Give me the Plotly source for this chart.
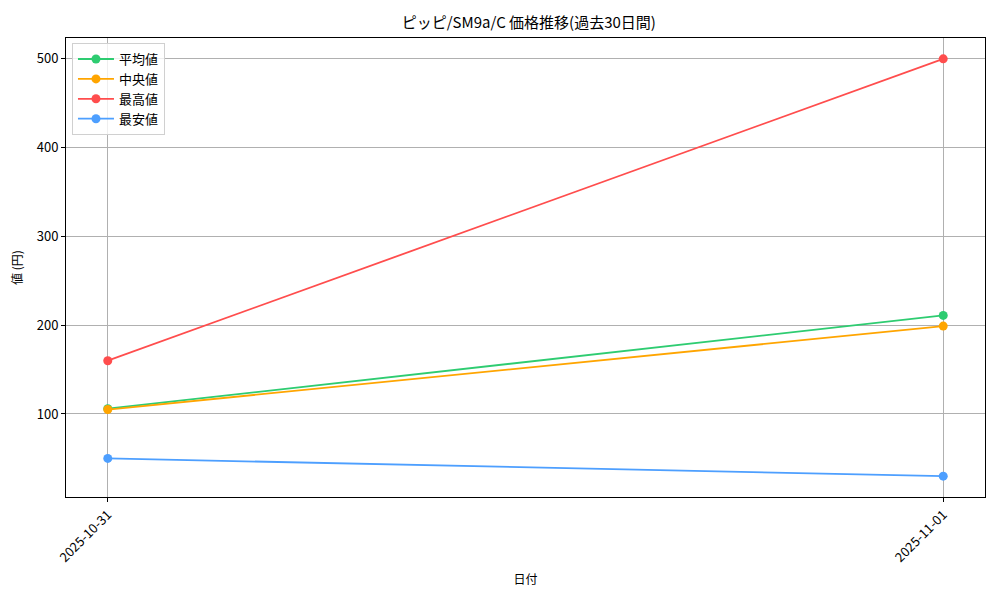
import plotly.graph_objects as go

dates = ["2025-10-31", "2025-11-01"]
avg_vals = [106, 211]
median_vals = [105, 199]
max_vals = [160, 500]
min_vals = [50, 30]

series = [
    ("平均値", avg_vals, "#2ecc71"),
    ("中央値", median_vals, "#ffa500"),
    ("最高値", max_vals, "#ff4d4d"),
    ("最安値", min_vals, "#4d9fff"),
]

FONT = "Noto Sans CJK JP"

fig = go.Figure()
for name, vals, color in series:
    fig.add_trace(go.Scatter(
        x=dates, y=vals, mode="lines+markers", name=name,
        line=dict(color=color, width=1.8),
        marker=dict(color=color, size=9),
    ))

# page body has an 8px margin, so the figure is a bit smaller than the window
fig.update_layout(
    width=992, height=592,
    margin=dict(l=58, r=15, t=30, b=103, autoexpand=False),
    paper_bgcolor="white", plot_bgcolor="white",
    font=dict(family=FONT, size=13, color="black"),
    title=dict(text="ピッピ/SM9a/C 価格推移(過去30日間)", x=0.525, xanchor="center",
               y=0.975, yanchor="middle", font=dict(size=15)),
    showlegend=True,
    legend=dict(x=0.0065, y=0.989, xanchor="left", yanchor="top",
                bgcolor="rgba(255,255,255,0.8)", bordercolor="#d0d0d0", borderwidth=1,
                font=dict(size=13), tracegroupgap=0, itemwidth=36),
)
fig.update_xaxes(
    type="category", range=[-0.05, 1.05], automargin=False,
    showline=True, linecolor="black", linewidth=1, mirror=True,
    showgrid=True, gridcolor="#b0b0b0", gridwidth=1,
    ticks="outside", ticklen=4, tickcolor="black", tickangle=-45,
    tickfont=dict(size=13),
    title=dict(text="日付", font=dict(size=12), standoff=10),
    zeroline=False,
)
fig.update_yaxes(
    range=[6.5, 523.5], tickvals=[100, 200, 300, 400, 500], automargin=False,
    showline=True, linecolor="black", linewidth=1, mirror=True,
    showgrid=True, gridcolor="#b0b0b0", gridwidth=1,
    ticks="outside", ticklen=4, tickcolor="black",
    tickfont=dict(size=13),
    title=dict(text="値 (円)", font=dict(size=12), standoff=12),
    zeroline=False,
)

fig.write_html("out.html")
